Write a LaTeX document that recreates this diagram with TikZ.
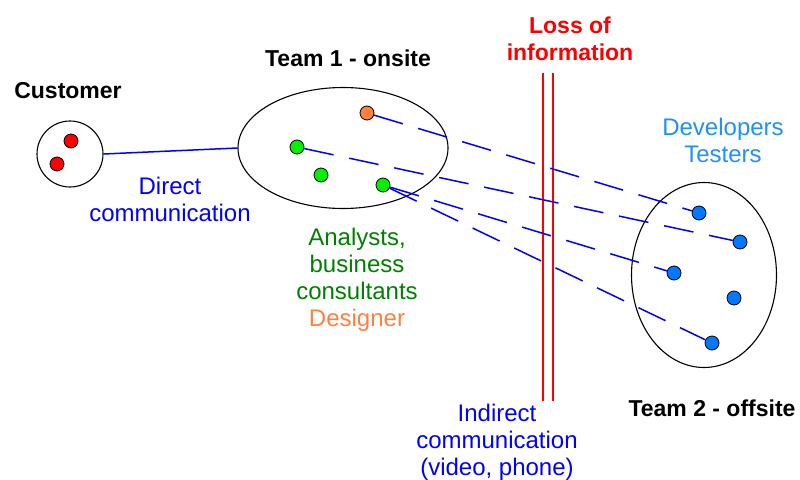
\documentclass[tikz,border=0pt]{standalone}
\usepackage{fontspec}
\setmainfont{Liberation Sans}
\usetikzlibrary{shapes.geometric}
\usetikzlibrary{positioning}

\definecolor{commblue}{RGB}{0,0,255}
\definecolor{devblue}{RGB}{30,144,255}
\definecolor{dotblue}{RGB}{0,120,255}
\definecolor{anagreen}{RGB}{0,128,0}
\definecolor{dotgreen}{RGB}{0,240,0}
\definecolor{desorange}{RGB}{255,128,64}

\begin{document}
\begin{tikzpicture}[
	x=1pt, y=-1pt,
	dot/.style={circle, draw=black, line width=0.8pt, inner sep=0pt, minimum size=14pt},
	grp/.style={draw=black, line width=1.1pt, inner sep=0pt},
	lbl/.style={align=center, font=\fontsize{24}{27}\selectfont},
	title/.style={align=center, font=\fontsize{23}{27}\selectfont\bfseries},
	direct/.style={draw=commblue, line width=1.5pt},
	indirect/.style={draw=commblue, line width=1.5pt, dash pattern=on 30pt off 16pt},
	loss/.style={draw=red, line width=1.6pt},
	]
	\useasboundingbox (0,0) rectangle (800,479);

	% groups
	\node[grp, circle, minimum size=66pt] (cust) at (70,154) {};
	\node[grp, ellipse, minimum width=210pt, minimum height=121pt] (team1) at (343,148) {};
	\node[grp, ellipse, minimum width=145pt, minimum height=185pt] (team2) at (704,275) {};

	% people
	\node[dot, fill=red] (c1) at (71,141) {};
	\node[dot, fill=red] (c2) at (57,164) {};

	\node[dot, fill=desorange] (des) at (367,113) {};
	\node[dot, fill=dotgreen] (a1) at (297,147) {};
	\node[dot, fill=dotgreen] (a2) at (321,175) {};
	\node[dot, fill=dotgreen] (a3) at (383,185) {};

	\node[dot, fill=dotblue] (d1) at (699,213) {};
	\node[dot, fill=dotblue] (d2) at (740,242) {};
	\node[dot, fill=dotblue] (d3) at (674,273) {};
	\node[dot, fill=dotblue] (d4) at (734,298) {};
	\node[dot, fill=dotblue] (d5) at (712,343) {};

	% loss of information
	\coordinate (lossA) at (543,73);
	\coordinate (lossB) at (543,401);
	\coordinate (lossC) at (553,73);
	\coordinate (lossD) at (553,401);
	\draw[loss] (lossA) -- (lossB);
	\draw[loss] (lossC) -- (lossD);

	% communication
	\draw[direct] (cust.east) -- (team1.west);

	\draw[indirect] (des) -- (d1);
	\draw[indirect] (a1) -- (d2);
	\draw[indirect] (a3) -- (d3);
	\draw[indirect] (a3) -- (d5);

	% labels
	\node[title] (custlbl) at (68,91) {Customer};
	\node[title] (team1lbl) at (348,58) {Team 1 - onsite};
	\node[title] (team2lbl) at (712,408) {Team 2 - offsite};
	\node[title, text=red] (losslbl) at (570,39) {Loss of\\information};

	\node[lbl, text=commblue] (directlbl) at (170,199) {Direct\\communication};
	\node[lbl, text=anagreen] (analbl) at (357,280) {Analysts,\\business\\consultants\\\textcolor{desorange}{Designer}};
	\node[lbl, text=devblue] (devlbl) at (723,140) {Developers\\Testers};
	\node[lbl, text=commblue] (indirectlbl) at (497,442) {Indirect\\communication\\(video, phone)};

\end{tikzpicture}
\end{document}
